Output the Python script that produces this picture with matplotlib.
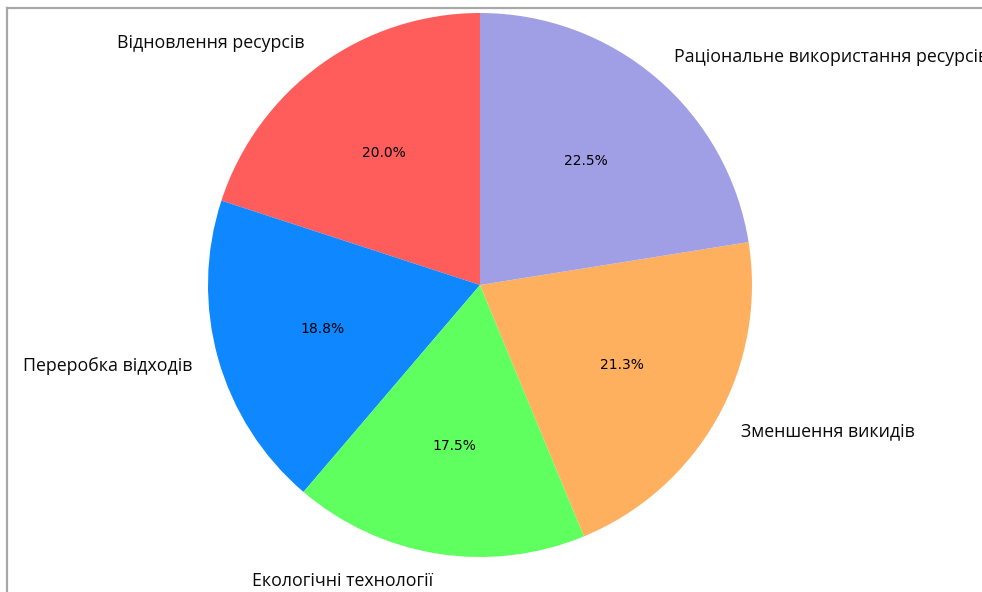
import matplotlib
matplotlib.use("Agg")
import matplotlib.pyplot as plt
from matplotlib.lines import Line2D

labels = ["Відновлення ресурсів", "Переробка відходів", "Екологічні технології",
          "Зменшення викидів", "Раціональне використання ресурсів"]
values = [20.0, 18.8, 17.5, 21.3, 22.5]
colors = ["#ff5c5c", "#0f87ff", "#5fff5f", "#ffb05f", "#a09fe6"]

W, H = 982, 592
fig = plt.figure(figsize=(W / 100, H / 100), dpi=100)
ax = fig.add_axes([0, 0, 1, 1])
cx, cy, r = 480, 285, 272

wedges, texts, autotexts = ax.pie(
    values, labels=labels, colors=colors, autopct="%1.1f%%", startangle=90,
    textprops={"fontsize": 11}, frame=True)
ax.set_xlim(-cx / r, (W - cx) / r)
ax.set_ylim(-(H - cy) / r, cy / r)
ax.axis("off")
for t in texts:
    t.set_fontfamily("Open Sans")
    t.set_fontsize(12.8)
    t.set_fontweight("medium")
    t.set_color("#0a0a0a")
for t in autotexts:
    t.set_fontsize(10)
    t.set_color("#000000")

fig.add_artist(Line2D([7 / W, 7 / W], [0, 1 - 8 / H], transform=fig.transFigure,
                      color="#a8a8a8", lw=1.6))
fig.add_artist(Line2D([7 / W, 1], [1 - 8 / H, 1 - 8 / H], transform=fig.transFigure,
                      color="#a8a8a8", lw=1.6))

fig.savefig("out.png", dpi=100)
